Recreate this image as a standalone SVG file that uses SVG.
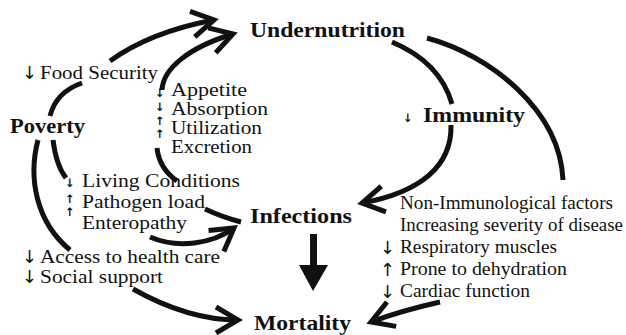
<svg xmlns="http://www.w3.org/2000/svg" width="626" height="335" viewBox="0 0 626 335">
<style>
.t{font-family:"Liberation Serif","Times New Roman",serif;font-size:18.5px;fill:#111}
.b{font-family:"Liberation Serif","Times New Roman",serif;font-size:21px;font-weight:bold;fill:#111}
.a{font-family:"DejaVu Sans",sans-serif;font-size:18px;fill:#111}
.s{font-family:"DejaVu Sans",sans-serif;font-size:11.5px;font-weight:bold;fill:#111}
.c{fill:none;stroke:#111;stroke-width:5;stroke-linecap:butt}
</style>
<defs>
<marker id="ah" markerUnits="userSpaceOnUse" orient="auto" overflow="visible" markerWidth="1" markerHeight="1" refX="0" refY="0">
<path d="M-22,-13 L0,0 L-22,13" fill="none" stroke="#111" stroke-width="5" stroke-linejoin="miter"/>
</marker>
</defs>
<rect width="626" height="335" fill="#fff"/>
<g id="connectors">
<path class="c" d="M50,116 Q56,92 82,83"/>
<path class="c" d="M110,61 Q150,32 214,20" marker-end="url(#ah)"/>
<path class="c" d="M162,90 C163,68 190,47 233,34" marker-end="url(#ah)"/>
<path class="c" d="M157,148 Q159,168 177,181"/>
<path class="c" d="M205,209 Q222,217 241,222"/>
<path class="c" d="M38,140 C28,178 36,222 70,250"/>
<path class="c" d="M53,140 Q56,165 66,178"/>
<path class="c" d="M150,237 C178,249 212,244 234,228" marker-end="url(#ah)"/>
<path class="c" d="M133,289 C165,307 200,320 238,320" marker-end="url(#ah)"/>
<path class="c" d="M392,42 Q440,62 452,104"/>
<path class="c" d="M451,125 C452,165 422,192 362,203" marker-end="url(#ah)"/>
<path class="c" d="M427,38 C490,55 560,110 563,180"/>
<path class="c" d="M440,302 Q400,311 371,322" marker-end="url(#ah)"/>
<rect x="310" y="234" width="7" height="34" fill="#111"/>
<polygon points="299,265 328,265 313,291" fill="#111"/>
</g>
<g id="undernutrition"><text class="b" x="250" y="37" textLength="155" lengthAdjust="spacingAndGlyphs">Undernutrition</text></g>
<g id="poverty"><text class="b" x="10" y="133" textLength="75" lengthAdjust="spacingAndGlyphs">Poverty</text></g>
<g id="immunity"><text class="s" x="403" y="122">↓</text><text class="b" x="423" y="122" textLength="102" lengthAdjust="spacingAndGlyphs">Immunity</text></g>
<g id="infections"><text class="b" x="250" y="223" textLength="102" lengthAdjust="spacingAndGlyphs">Infections</text></g>
<g id="mortality"><text class="b" x="254" y="330" textLength="97" lengthAdjust="spacingAndGlyphs">Mortality</text></g>
<g id="food-security"><text class="a" x="22" y="79">↓</text><text class="t" x="40" y="79" textLength="118" lengthAdjust="spacingAndGlyphs">Food Security</text></g>
<g id="intake">
<text class="s" x="155" y="97">↓</text>
<text class="s" x="155" y="111">↓</text>
<text class="s" x="155" y="125">↑</text>
<text class="s" x="155" y="138">↑</text>
<text class="t" x="171" y="96" textLength="76" lengthAdjust="spacingAndGlyphs">Appetite</text>
<text class="t" x="171" y="115" textLength="97" lengthAdjust="spacingAndGlyphs">Absorption</text>
<text class="t" x="171" y="134" textLength="91" lengthAdjust="spacingAndGlyphs">Utilization</text>
<text class="t" x="171" y="153" textLength="81" lengthAdjust="spacingAndGlyphs">Excretion</text>
</g>
<g id="living">
<text class="s" x="65" y="187">↓</text>
<text class="s" x="65" y="203">↑</text>
<text class="s" x="65" y="216">↑</text>
<text class="t" x="82" y="187" textLength="158" lengthAdjust="spacingAndGlyphs">Living Conditions</text>
<text class="t" x="82" y="208" textLength="123" lengthAdjust="spacingAndGlyphs">Pathogen load</text>
<text class="t" x="82" y="229" textLength="105" lengthAdjust="spacingAndGlyphs">Enteropathy</text>
</g>
<g id="access">
<text class="a" x="22" y="263">↓</text>
<text class="a" x="22" y="283">↓</text>
<text class="t" x="40" y="263" textLength="180" lengthAdjust="spacingAndGlyphs">Access to health care</text>
<text class="t" x="40" y="283" textLength="123" lengthAdjust="spacingAndGlyphs">Social support</text>
</g>
<g id="non-immunological">
<text class="t" x="400" y="209" textLength="213" lengthAdjust="spacingAndGlyphs">Non-Immunological factors</text>
<text class="t" x="400" y="231" textLength="223" lengthAdjust="spacingAndGlyphs">Increasing severity of disease</text>
<text class="a" x="380" y="254">↓</text>
<text class="t" x="400" y="253" textLength="157" lengthAdjust="spacingAndGlyphs">Respiratory muscles</text>
<text class="a" x="380" y="276">↑</text>
<text class="t" x="400" y="275" textLength="167" lengthAdjust="spacingAndGlyphs">Prone to dehydration</text>
<text class="a" x="380" y="298">↓</text>
<text class="t" x="400" y="297" textLength="130" lengthAdjust="spacingAndGlyphs">Cardiac function</text>
</g>
</svg>
